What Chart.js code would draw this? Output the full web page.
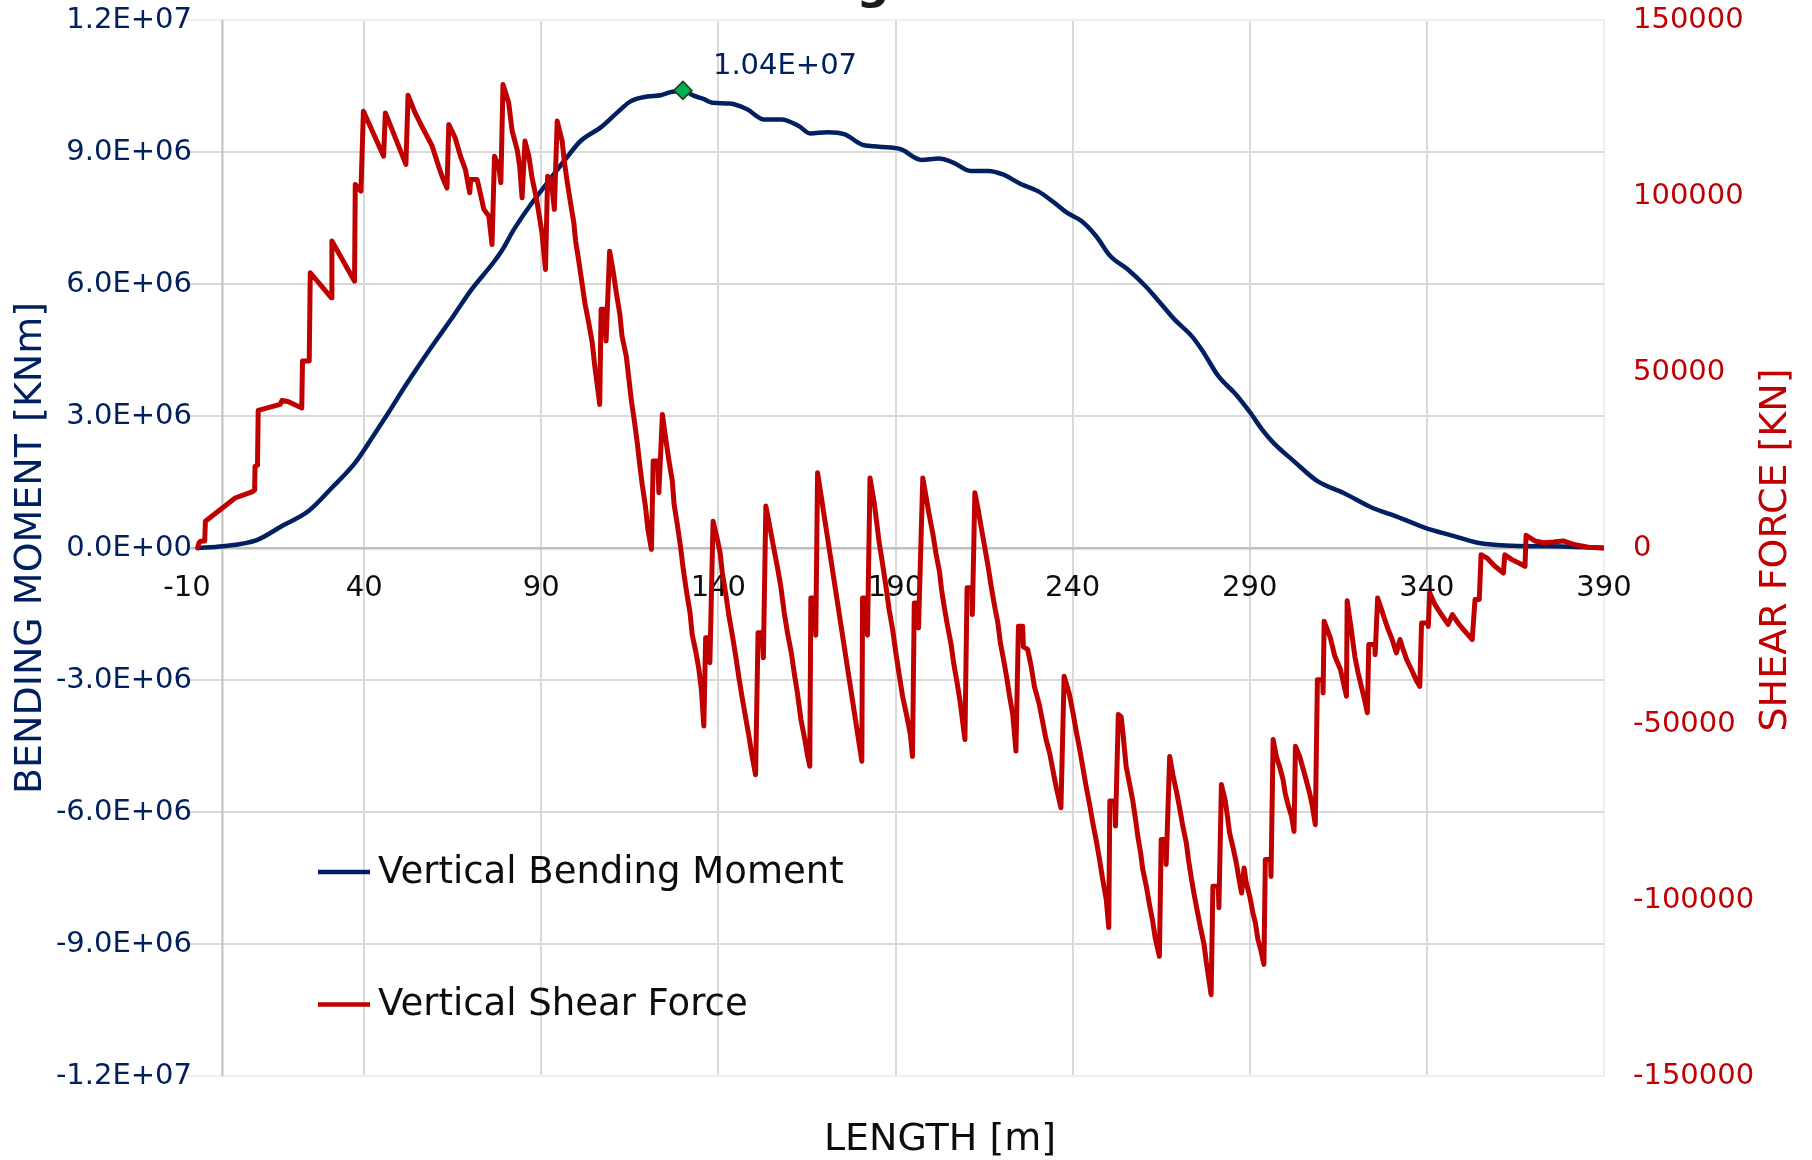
<!DOCTYPE html>
<html>
<head>
<meta charset="utf-8">
<title>Vertical Bending Moment and Shear Force</title>
<script src="https://cdn.jsdelivr.net/npm/chart.js@4.4.1/dist/chart.umd.min.js"></script>
<style>
  html, body { margin: 0; padding: 0; background: #ffffff; }
  #wrap { position: relative; width: 1812px; height: 1160px; }
</style>
</head>
<body>
<div id="wrap"><canvas id="chart" width="1812" height="1160"></canvas></div>
<script>
// --- data ---
// bending moment curve [m] / [KNm]
const momentLength = [-7, 0, 9.7, 16.8, 24.3, 30.9, 37.5, 42.2, 46.9, 51.6,
  56.3, 60, 64.3, 70, 76.6, 78.9, 82.3, 87, 91.7, 96.4,
  101.1, 106.8, 111.5, 115.2, 119.9, 123.7, 126.5, 130, 133, 135.9,
  138.3, 143.2, 148.1, 152.9, 157.8, 162.7, 165.9, 170.8, 175.7, 180.5,
  183.8, 188.6, 191.6, 197.3, 202.2, 206.3, 211.2, 216.2, 220.3, 225.2,
  230.2, 234.3, 238.4, 242.5, 246.6, 250.7, 255.6, 260.6, 263.9, 268.8,
  273.7, 277, 281.1, 286.1, 290.2, 293.5, 296.7, 302.5, 309.1, 316.5,
  324.7, 331.3, 339.5, 347.7, 354.3, 364.2, 372.4, 380.6, 390];
const momentValues = [0, 40000, 180000, 500000, 840000, 1370000, 1940000, 2500000, 3080000, 3680000,
  4250000, 4680000, 5170000, 5840000, 6500000, 6760000, 7240000, 7800000, 8300000, 8790000,
  9250000, 9560000, 9900000, 10150000, 10260000, 10290000, 10360000, 10400000, 10280000, 10200000,
  10120000, 10100000, 9970000, 9740000, 9740000, 9590000, 9420000, 9450000, 9400000, 9170000,
  9130000, 9100000, 9060000, 8820000, 8850000, 8760000, 8570000, 8570000, 8490000, 8280000,
  8110000, 7880000, 7620000, 7430000, 7090000, 6630000, 6330000, 5950000, 5650000, 5190000,
  4810000, 4440000, 3910000, 3490000, 3070000, 2690000, 2390000, 1970000, 1520000, 1250000,
  910000, 720000, 460000, 270000, 120000, 50000, 40000, 30000, 0];

// shear force curve [m] / [KN]
const shearLength = [-7, -6.6, -6.2, -5.0, -4.8, 3.6, 8.7, 9.1, 9.2, 9.9,
  10.1, 16.3, 16.8, 18.5, 22.4, 22.6, 24.5, 24.8, 30.7, 30.9,
  37.3, 37.5, 39.1, 39.8, 45.5, 46.0, 51.8, 52.4, 54.4, 56.3,
  59.2, 61.0, 62.0, 63.4, 63.9, 65.7, 67.2, 68.6, 69.8, 70.1,
  71.9, 73.0, 73.8, 75.2, 76.1, 76.8, 78.0, 78.6, 79.2, 80.8,
  81.8, 83.2, 83.9, 84.6, 85.4, 86.5, 87.4, 88.7, 89.3, 90.2,
  91.2, 91.8, 92.8, 93.7, 94.5, 95.9, 96.5, 97.3, 98.2, 99.2,
  99.7, 100.6, 101.5, 102.3, 103.4, 104.4, 105.0, 105.8, 106.5, 106.9,
  107.9, 108.3, 109.3, 110.3, 111.2, 112.2, 112.8, 114.0, 114.7, 115.4,
  116.3, 117.1, 117.8, 118.5, 119.4, 120.1, 121.1, 121.6, 122.9, 123.2,
  124.2, 125.1, 126.0, 127.0, 127.5, 128.4, 129.3, 130.1, 131.0, 132.0,
  132.6, 133.6, 134.5, 135.2, 135.9, 136.4, 137.3, 137.6, 138.5, 139.5,
  140.5, 141.1, 142.1, 143.0, 144.0, 144.9, 145.8, 146.8, 147.7, 148.7,
  149.6, 150.5, 151.2, 152.4, 152.7, 153.4, 154.3, 155.7, 156.7, 157.6,
  158.6, 159.5, 160.6, 161.4, 162.3, 163.3, 164.4, 165.2, 165.8, 166.1,
  167.2, 167.5, 168.0, 180.5, 180.7, 181.9, 182.1, 182.8, 184.0, 184.7,
  185.4, 186.3, 187.3, 188.2, 189.2, 190.1, 191.1, 192.0, 193.2, 194.2,
  194.8, 195.3, 196.3, 196.5, 197.7, 198.6, 199.5, 200.5, 201.4, 202.4,
  203.0, 203.8, 204.7, 205.7, 206.4, 207.4, 208.3, 209.0, 209.6, 210.2,
  211.6, 211.7, 212.4, 213.4, 214.3, 215.3, 216.2, 217.0, 217.9, 218.9,
  219.6, 220.6, 221.5, 222.2, 223.1, 224.0, 224.7, 225.9, 226.1, 227.3,
  228.3, 229.2, 230.6, 231.6, 232.5, 233.5, 234.4, 235.4, 236.7, 237.6,
  239.1, 240.1, 241.0, 242.0, 242.9, 243.8, 244.8, 245.7, 246.7, 247.6,
  248.5, 249.5, 250.2, 250.5, 251.9, 252.1, 252.9, 253.7, 254.2, 255.1,
  256.1, 257.0, 257.7, 258.4, 259.2, 259.8, 260.8, 261.7, 262.6, 263.3,
  264.5, 265.0, 266.2, 266.4, 267.4, 268.3, 269.3, 270.2, 271.1, 272.1,
  272.7, 273.5, 274.3, 275.2, 276.1, 277.1, 277.7, 278.4, 279.1, 279.6,
  281.1, 281.3, 282.0, 283.1, 283.7, 284.3, 285.3, 286.2, 286.9, 287.7,
  288.4, 289.0, 290.0, 290.9, 291.6, 292.3, 293.1, 294.0, 294.4, 295.9,
  296.0, 296.6, 297.5, 298.4, 299.4, 300.0, 300.8, 301.8, 302.5, 302.9,
  304.1, 305.0, 306.0, 306.9, 307.6, 308.5, 309.1, 310.6, 310.7, 311.0,
  312.8, 314.0, 315.6, 317.3, 317.5, 318.5, 319.7, 320.6, 321.5, 322.4,
  323.2, 323.6, 325.3, 325.4, 326.1, 327.2, 328.1, 329.1, 330.2, 331.4,
  332.4, 333.3, 334.3, 335.2, 336.1, 337.1, 338.0, 338.5, 340.3, 340.4,
  340.8, 342.3, 344.1, 346.0, 347.2, 348.8, 350.7, 352.8, 353.6, 354.8,
  355.3, 356.9, 359.2, 361.6, 362.0, 364.0, 365.8, 367.7, 368.0, 370.5,
  372.9, 375.7, 378.5, 381.8, 385.6, 390];
const shearValues = [0, 1500, 1900, 2000, 7600, 14200, 16100, 16500, 23200, 23500,
  39100, 40800, 41900, 41600, 39800, 53100, 53100, 78200, 71100, 87200,
  75800, 103300, 101400, 124100, 111300, 123600, 109000, 128600, 123600, 119800,
  114200, 108500, 105600, 102300, 120300, 116500, 111300, 107500, 100900, 104700,
  104700, 99900, 96200, 94300, 86200, 111300, 108500, 103800, 131700, 126500,
  118400, 113200, 108500, 99500, 115600, 111300, 105200, 99000, 95200, 89500,
  79100, 105600, 104700, 96200, 121300, 115600, 109900, 104200, 98500, 92400,
  87200, 81500, 75300, 69700, 64000, 58300, 52600, 46400, 40800, 67800,
  67800, 58800, 84300, 78600, 72500, 66300, 60200, 54500, 48400, 42200,
  36000, 29900, 23700, 18000, 11900, 5300, -400, 24700, 24700, 15700,
  37900, 31300, 25100, 19000, 12400, 6700, 500, -6100, -12300, -18400,
  -24600, -29300, -34500, -40200, -50600, -25500, -25500, -32600, 7600, 3400,
  -1400, -7000, -13200, -19400, -25100, -30700, -36900, -43000, -48200, -53900,
  -59600, -64400, -24100, -24100, -31200, 11900, 7200, -400, -5600, -10800,
  -18400, -24100, -29800, -35500, -41100, -48700, -54400, -59100, -62000, -14200,
  -14200, -24800, 21400, -60600, -14200, -14200, -24800, 19900, 12800, 7200,
  1500, -4200, -10800, -17500, -23200, -29800, -36400, -42100, -47800, -53000,
  -59200, -15600, -15600, -22700, 19900, 14700, 9500, 4300, -1400, -6600,
  -11800, -17000, -22200, -27400, -32600, -38300, -44000, -49700, -54400, -11300,
  -11300, -18900, 15700, 10500, 5300, -400, -5600, -10800, -16100, -21300,
  -26900, -32200, -37400, -42100, -47300, -57700, -22200, -22200, -28100, -28800,
  -33600, -39300, -44500, -49700, -54400, -58200, -62900, -68100, -73800, -36400,
  -41600, -46800, -52000, -57200, -62400, -67700, -72900, -78100, -83300, -88500,
  -94200, -99900, -107800, -71900, -71900, -79000, -47300, -48000, -52500, -62000,
  -67200, -71900, -76700, -81900, -86600, -91300, -96100, -101300, -106000, -110700,
  -116000, -82800, -82800, -89900, -59200, -64400, -69100, -73800, -79000, -83800,
  -88500, -93700, -98400, -103200, -107900, -112600, -117400, -122100, -126900, -96100,
  -96100, -102200, -67200, -71900, -76200, -80900, -85200, -89400, -93700, -98000,
  -90900, -95100, -98900, -103700, -106500, -111200, -114100, -118300, -88500, -88500,
  -93300, -54400, -59200, -62000, -65800, -69600, -72900, -76200, -80500, -56300,
  -59200, -62500, -66200, -69600, -72900, -78600, -37400, -37400, -41200, -20800,
  -25700, -30700, -34500, -42100, -15000, -22000, -31000, -35500, -39300, -43000,
  -46800, -27400, -27400, -30300, -14200, -17500, -20300, -23200, -26000, -29800,
  -26000, -28800, -31700, -33600, -35500, -37800, -39300, -21300, -21300, -22300,
  -12700, -16100, -18900, -21700, -18900, -21300, -23600, -26000, -14600, -14600,
  -1900, -2800, -5200, -7100, -1900, -3300, -4200, -5200, 3600, 2000,
  1500, 1700, 2000, 900, 200, 0];

// maximum bending moment marker
const peakLength = [130];
const peakMoment = [10400000];

// axis ticks
const lengthTicks = [-10, 40, 90, 140, 190, 240, 290, 340, 390];
const momentTicks = [-12000000, -9000000, -6000000, -3000000, 0, 3000000, 6000000, 9000000, 12000000];
const shearTicks = [-150000, -100000, -50000, 0, 50000, 100000, 150000];

// --- styling ---
const NAVY = '#002060';
const RED = '#C00000';
const FONT = '"DejaVu Sans", Verdana, sans-serif';

function sci(v, digits) {
  const [m, e] = v.toExponential(digits).split('e');
  const n = parseInt(e, 10);
  return m + 'E' + (n < 0 ? '-' : '+') + String(Math.abs(n)).padStart(2, '0');
}

const toPoints = (xs, ys) => xs.map((x, i) => ({ x: x, y: ys[i] }));

// x = 0 line, axis titles, legend, peak label
const extras = {
  id: 'extras',
  afterLayout(chart) {
    // left tick labels run a few px into the plot, as in the original
    chart.scales.y.right = chart.chartArea.left + 5;
  },
  beforeDatasetsDraw(chart) {
    const { ctx, chartArea, scales } = chart;
    const x0 = scales.x.getPixelForValue(0);
    ctx.save();
    ctx.strokeStyle = '#bfbfbf';
    ctx.lineWidth = 2;
    ctx.beginPath();
    ctx.moveTo(x0, chartArea.top);
    ctx.lineTo(x0, chartArea.bottom);
    ctx.stroke();
    ctx.restore();
  },
  afterDraw(chart) {
    const { ctx, chartArea, scales } = chart;
    ctx.save();

    // peak label
    const px = scales.x.getPixelForValue(peakLength[0]);
    const py = scales.y.getPixelForValue(peakMoment[0]);
    ctx.font = '29px ' + FONT;
    ctx.fillStyle = NAVY;
    ctx.textAlign = 'left';
    ctx.textBaseline = 'middle';
    ctx.fillText(sci(peakMoment[0], 2), px + 30, py - 24);

    // chart title, almost all of it above the visible area
    const title = 'Vertical Bending Moment and Shear Force';
    ctx.font = 'bold 46px ' + FONT;
    ctx.fillStyle = '#1a1a1a';
    ctx.textBaseline = 'alphabetic';
    const gi = title.indexOf('g');
    const pre = ctx.measureText(title.slice(0, gi)).width;
    const gw = ctx.measureText('g').width;
    ctx.fillText(title, 873 - pre - gw / 2, -2);

    // x axis title
    ctx.font = '38px ' + FONT;
    ctx.fillStyle = '#0d0d0d';
    ctx.textAlign = 'center';
    ctx.textBaseline = 'middle';
    ctx.fillText('LENGTH [m]', 940, 1140);

    // right axis title, reading bottom to top
    ctx.save();
    ctx.translate(1776, (chartArea.top + chartArea.bottom) / 2 + 2);
    ctx.rotate(-Math.PI / 2);
    ctx.fillStyle = RED;
    ctx.fillText('SHEAR FORCE [KN]', 0, 0);
    ctx.restore();

    // legend inside the plot
    const items = chart.data.datasets.filter(d => d.inLegend);
    items.sort((a, b) => a.legendRank - b.legendRank);
    let ly = chartArea.top + 852;
    items.forEach(d => {
      ctx.strokeStyle = d.borderColor;
      ctx.lineWidth = 4.5;
      ctx.beginPath();
      ctx.moveTo(chartArea.left + 131, ly);
      ctx.lineTo(chartArea.left + 183, ly);
      ctx.stroke();
      ctx.font = '37px ' + FONT;
      ctx.fillStyle = '#0d0d0d';
      ctx.textAlign = 'left';
      ctx.textBaseline = 'middle';
      ctx.fillText(d.label, chartArea.left + 191, ly + 1);
      ly += 132.5;
    });
    ctx.restore();
  }
};

new Chart(document.getElementById('chart'), {
  type: 'scatter',
  data: {
    datasets: [
      {
        label: 'max',
        data: toPoints(peakLength, peakMoment),
        yAxisID: 'y',
        pointStyle: 'rectRot',
        pointRadius: 9,
        backgroundColor: '#00B050',
        borderColor: '#1e3d1e',
        borderWidth: 1.5,
        order: 0
      },
      {
        label: 'Vertical Shear Force',
        data: toPoints(shearLength, shearValues),
        yAxisID: 'y1',
        showLine: true,
        borderColor: RED,
        backgroundColor: RED,
        borderWidth: 5,
        borderJoinStyle: 'round',
        borderCapStyle: 'round',
        pointRadius: 0,
        tension: 0,
        order: 1,
        inLegend: true,
        legendRank: 2
      },
      {
        label: 'Vertical Bending Moment',
        data: toPoints(momentLength, momentValues),
        yAxisID: 'y',
        showLine: true,
        borderColor: NAVY,
        backgroundColor: NAVY,
        borderWidth: 4.5,
        borderJoinStyle: 'round',
        pointRadius: 0,
        cubicInterpolationMode: 'monotone',
        order: 2,
        inLegend: true,
        legendRank: 1
      }
    ]
  },
  options: {
    responsive: false,
    animation: false,
    devicePixelRatio: 1,
    layout: { padding: { top: 20, bottom: 84, left: 0, right: 0 } },
    plugins: {
      legend: { display: false },
      title: { display: false },
      tooltip: { enabled: false }
    },
    scales: {
      x: {
        type: 'linear',
        min: -10,
        max: 390,
        position: { y: 0 },
        afterBuildTicks: s => { s.ticks = lengthTicks.map(v => ({ value: v })); },
        ticks: {
          color: '#0d0d0d',
          font: { family: FONT, size: 29 },
          padding: 23.5,
          maxRotation: 0,
          autoSkip: false,
          callback: v => String(v)
        },
        grid: {
          drawTicks: false,
          lineWidth: 2,
          color: c => c.tick.value === -10 ? 'rgba(0,0,0,0)' : (c.tick.value === 390 ? '#efefef' : '#d9d9d9')
        },
        border: { display: false }
      },
      y: {
        type: 'linear',
        position: 'left',
        min: -12000000,
        max: 12000000,
        afterBuildTicks: s => { s.ticks = momentTicks.map(v => ({ value: v })); },
        afterFit: s => { s.width = 187; },
        ticks: {
          color: NAVY,
          font: { family: FONT, size: 29 },
          padding: 0,
          callback: v => sci(v, 1)
        },
        grid: {
          drawTicks: false,
          lineWidth: c => c.tick.value === 0 ? 2.5 : 2,
          color: c => c.tick.value === 0 ? '#bfbfbf' : (Math.abs(c.tick.value) === 12000000 ? '#efefef' : '#d9d9d9')
        },
        border: { display: false },
        title: {
          display: true,
          text: 'BENDING MOMENT [KNm]',
          color: NAVY,
          font: { family: FONT, size: 38 },
          padding: { top: 8, bottom: 0 }
        }
      },
      y1: {
        type: 'linear',
        position: 'right',
        min: -150000,
        max: 150000,
        afterBuildTicks: s => { s.ticks = shearTicks.map(v => ({ value: v })); },
        afterFit: s => { s.width = 208; },
        ticks: {
          color: RED,
          font: { family: FONT, size: 29 },
          padding: 0,
          callback: v => String(v)
        },
        grid: { display: false, drawTicks: true, tickLength: 29 },
        border: { display: false }
      }
    }
  },
  plugins: [extras]
});
</script>
</body>
</html>
